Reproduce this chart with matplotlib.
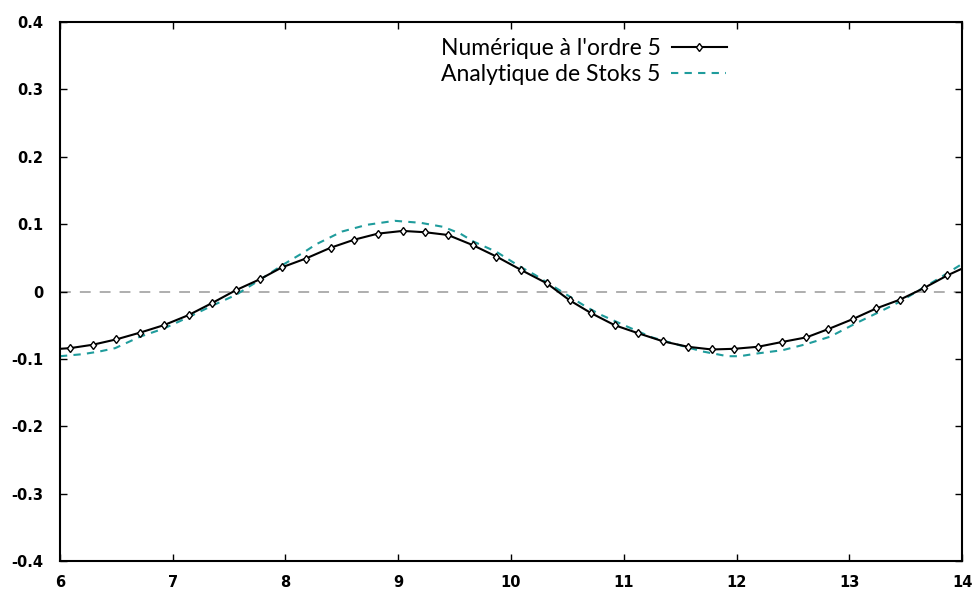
import numpy as np
import matplotlib.pyplot as plt
from matplotlib.ticker import FixedLocator

# numerical solution (order 5)
x_num = [6.00, 6.09, 6.29, 6.50, 6.71, 6.92, 7.14, 7.35, 7.56, 7.77, 7.97,
         8.18, 8.40, 8.61, 8.82, 9.04, 9.24, 9.44, 9.66, 9.87, 10.09,
         10.32, 10.52, 10.71, 10.92, 11.13, 11.35, 11.57, 11.78, 11.98,
         12.19, 12.40, 12.62, 12.81, 13.03, 13.24, 13.45, 13.66, 13.87, 14.00]
y_num = [-0.085, -0.084, -0.079, -0.071, -0.061, -0.050, -0.035, -0.017, 0.002, 0.018, 0.036,
         0.049, 0.065, 0.077, 0.086, 0.090, 0.088, 0.084, 0.069, 0.052, 0.032,
         0.012, -0.013, -0.032, -0.050, -0.062, -0.074, -0.082, -0.086, -0.085,
         -0.082, -0.075, -0.068, -0.056, -0.041, -0.025, -0.012, 0.005, 0.024, 0.034]

# analytical Stokes 5th order
x_ana = [6.00, 6.20, 6.35, 6.49, 6.71, 6.92, 7.14, 7.35, 7.56, 7.77, 7.97,
         8.17, 8.27, 8.50, 8.72, 8.97, 9.20, 9.40, 9.55, 9.67, 9.87,
         10.08, 10.21, 10.43, 10.66, 10.79, 11.03, 11.25, 11.48, 11.70, 11.92,
         12.03, 12.18, 12.41, 12.62, 12.83, 13.06, 13.27, 13.45, 13.62, 13.80, 14.00]
y_ana = [-0.096, -0.093, -0.089, -0.084, -0.067, -0.055, -0.038, -0.021, -0.005, 0.017, 0.039,
         0.059, 0.070, 0.089, 0.099, 0.105, 0.102, 0.096, 0.086, 0.074, 0.059,
         0.037, 0.025, 0.002, -0.022, -0.034, -0.052, -0.068, -0.079, -0.089, -0.096,
         -0.096, -0.092, -0.087, -0.078, -0.067, -0.047, -0.030, -0.015, 0.002, 0.020, 0.041]

xticks = [6, 7, 8, 9, 10, 11, 12, 13, 14]
yticks = [-0.4, -0.3, -0.2, -0.1, 0, 0.1, 0.2, 0.3, 0.4]
yticklabels = ["-0.4", "-0.3", "-0.2", "-0.1", "0", "0.1", "0.2", "0.3", "0.4"]

fig = plt.figure(figsize=(9.75, 5.97), dpi=100)
ax = fig.add_axes([0.0615, 0.0603, 0.9252, 0.9027])

ax.axhline(0, color="#a8a8a8", lw=1.3, dashes=(6, 5), zorder=1)
ax.plot(x_num, y_num, color="black", lw=1.5, marker="d", ms=4.5,
        mfc="white", mec="black", mew=1.0, markevery=list(range(1, len(x_num) - 1)),
        label="Numérique à l'ordre 5", zorder=3)
ax.plot(x_ana, y_ana, color="#1f9c9c", lw=1.5, dashes=(3.5, 3),
        label="Analytique de Stoks 5", zorder=2)

ax.set_xlim(6, 14)
ax.set_ylim(-0.4, 0.4)
ax.xaxis.set_major_locator(FixedLocator(xticks))
ax.yaxis.set_major_locator(FixedLocator(yticks))
ax.set_yticklabels(yticklabels)
for lab in ax.get_xticklabels() + ax.get_yticklabels():
    lab.set_fontweight("bold")
    lab.set_fontsize(10.5)
ax.tick_params(direction="in", length=5, width=1, top=True, right=True, pad=10)
ax.tick_params(axis="y", pad=12)
for s in ax.spines.values():
    s.set_linewidth(1.5)

leg = ax.legend(loc="upper left", bbox_to_anchor=(0.405, 1.0), frameon=False,
                markerfirst=False, handlelength=2.4, handletextpad=0.45,
                labelspacing=0.2, borderaxespad=0.3,
                prop={"family": "Lato", "size": 16.5})
# gnuplot-style key: labels flush left, samples follow the text
for col in leg._legend_handle_box.get_children():
    col.align = "left"

fig.savefig("out.png", dpi=100)
